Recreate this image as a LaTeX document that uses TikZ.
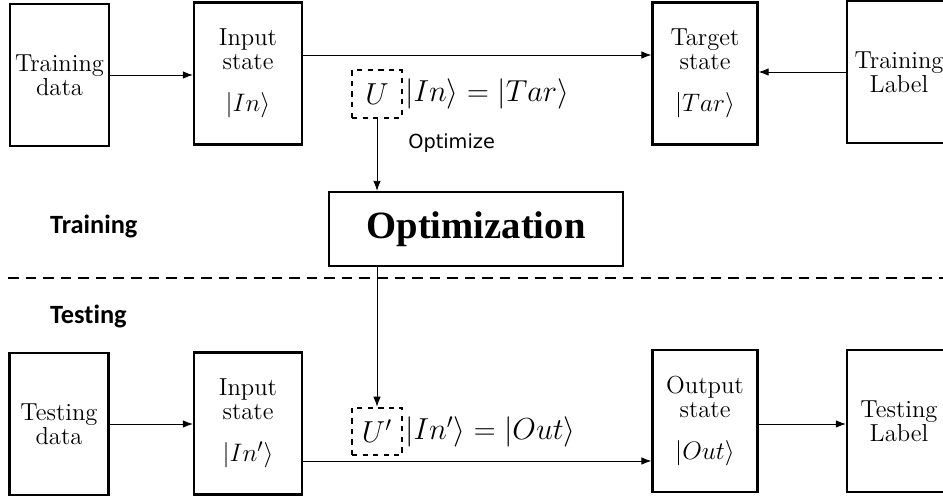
\documentclass[tikz,border=0pt]{standalone}
\usepackage{amsmath}
\usepackage{fontspec}
\usepackage{tikz}
\usetikzlibrary{arrows.meta, positioning, calc}
\newfontfamily\phasefont[Ligatures=NoCommon]{Carlito}
\newfontfamily\notefont{DejaVu Sans}
\newfontfamily\optfont{Liberation Serif}

\begin{document}
\begin{tikzpicture}[x=0.02cm, y=-0.02cm,
    box/.style={draw, line width=1.3pt, minimum height=2.84cm, inner sep=0pt, align=center, font=\fontsize{14}{13.7}\selectfont},
    ubox/.style={draw, dashed, line width=1.2pt, minimum width=1cm, minimum height=0.95cm, inner sep=0pt, font=\fontsize{17}{20}\selectfont},
    eqn/.style={anchor=west, inner sep=1pt, font=\fontsize{17}{20}\selectfont},
    link/.style={-{Latex[length=2mm,width=1.5mm]}, line width=0.5pt},
    phase/.style={anchor=west, font=\phasefont\bfseries\fontsize{15}{17}\selectfont}]
                \useasboundingbox (0,0) rectangle (943,499);
                \clip (0,0) rectangle (943,499);

                % Training
                \node [box, minimum width=1.98cm] (traindata) at (59.5,75) {Training\\data};
                \node [box, minimum width=2.16cm] (trainin) at (248,73.5) {Input\\state\\[10pt]\fontsize{15}{17}\selectfont$|In\rangle$};
                \node [box, minimum width=2.1cm] (target) at (705,73.5) {Target\\state\\[10pt]\fontsize{15}{17}\selectfont$|Tar\rangle$};
                \node [box, minimum width=2.08cm] (trainlabel) at (899,72) {Training\\Label};
                \node [ubox] (uop) at (377,94) {$U$};
                \node [eqn] (traineq) at (uop.east) {$|In\rangle = |Tar\rangle$};
                \node [draw, line width=1.3pt, minimum width=5.88cm, minimum height=1.48cm, font=\optfont\bfseries\fontsize{22}{24}\selectfont] (opt) at (476,229) {Optimization};
                \node [phase] (trainphase) at (44,226) {Training};

                % Testing
                \node [phase] (testphase) at (44,316) {Testing};
                \node [box, minimum width=1.98cm] (testdata) at (59,424) {Testing\\data};
                \node [box, minimum width=2.16cm] (testin) at (248,423.5) {Input\\state\\[10pt]\fontsize{15}{17}\selectfont$|In'\rangle$};
                \node [box, minimum width=2.1cm] (outstate) at (705,421) {Output\\state\\[10pt]\fontsize{15}{17}\selectfont$|Out\rangle$};
                \node [box, minimum width=2.08cm] (testlabel) at (899,421) {Testing\\Label};
                \node [ubox] (uopt) at (377,431.5) {$U'$};
                \node [eqn] (testeq) at (uopt.east) {$|In'\rangle = |Out\rangle$};

                % split line
                \coordinate (splitl) at (8,278);
                \coordinate (splitr) at (943,278);
                \draw [line width=0.8pt, dash pattern=on 6pt off 4pt] (splitl) -- (splitr);

                \draw[link] (traindata.east) -- (traindata.east -| trainin.west);
                \draw[link] ([yshift=0.37cm]trainin.east) -- ([yshift=0.37cm]trainin.east -| target.west);
                \draw[link] (trainlabel.west) -- (trainlabel.west -| target.east);
                \draw[link] (uop.south) -- node[pos=0.34, anchor=west, xshift=0.5cm, font=\notefont\fontsize{11}{13}\selectfont] {Optimize} (uop.south |- opt.north);
                \draw[link] (opt.south -| uopt.north) -- (uopt.north);
                \draw[link] (testdata.east) -- (testdata.east -| testin.west);
                \draw[link] ([yshift=-0.75cm]testin.east) -- ([yshift=-0.75cm]testin.east -| outstate.west);
                \draw[link] (outstate.east |- testdata.east) -- (testdata.east -| testlabel.west);
            \end{tikzpicture}
\end{document}
